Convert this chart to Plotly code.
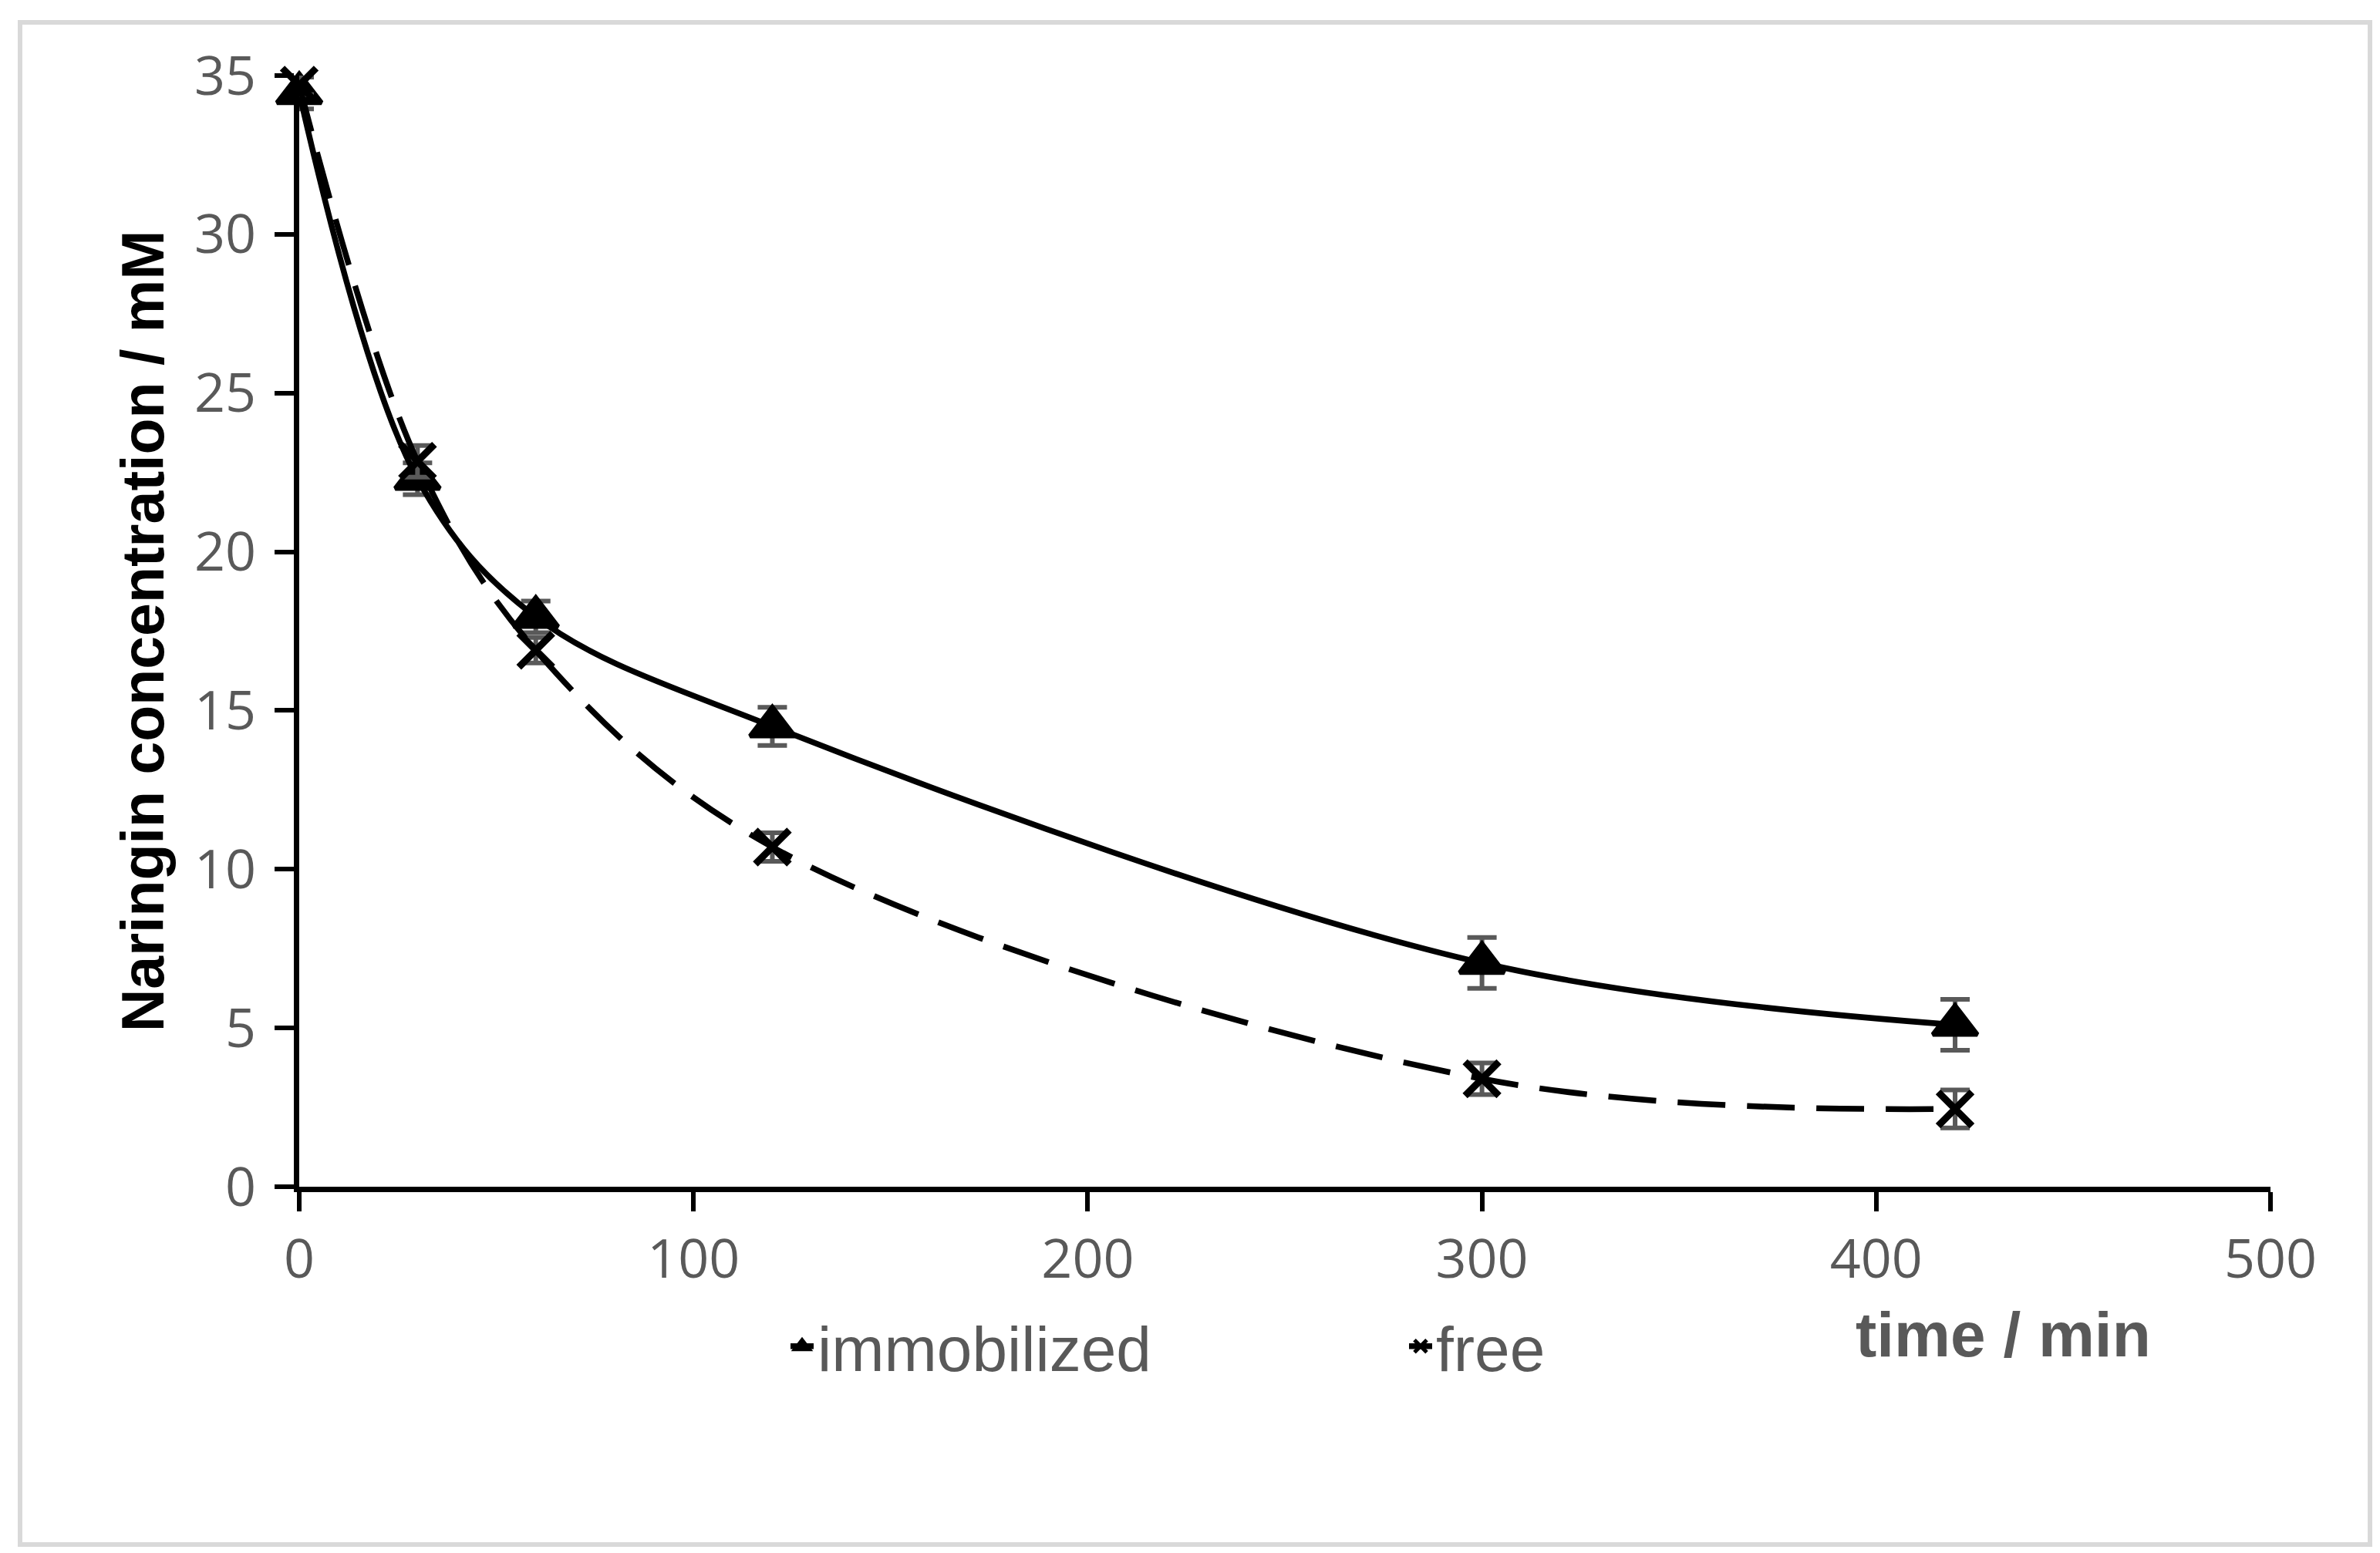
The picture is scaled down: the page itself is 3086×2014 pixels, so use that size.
import plotly.graph_objects as go

# sampling times (min)
time_min = [0, 30, 60, 120, 300, 420]

# naringin concentration (mM), with error bar half-widths
immobilized = [34.45, 22.3, 17.95, 14.5, 7.05, 5.1]
immobilized_sd = [0.5, 0.5, 0.5, 0.6, 0.8, 0.8]
free = [34.7, 22.85, 16.9, 10.7, 3.4, 2.45]
free_sd = [0.3, 0.5, 0.4, 0.45, 0.5, 0.6]

x_ticks = [0, 100, 200, 300, 400, 500]
y_ticks = [0, 5, 10, 15, 20, 25, 30, 35]

W, H = 3086, 2014
L, R, T, B = 380, 150, 90, 483
pw, ph = W - L - R, H - T - B

GRAY = '#595959'
tick_font = dict(family='Open Sans', size=70, color=GRAY)
err_style = dict(type='data', visible=True, color=GRAY, thickness=6, width=19)

fig = go.Figure()
fig.add_trace(go.Scatter(
    x=time_min, y=immobilized, name='immobilized',
    mode='lines+markers', cliponaxis=False,
    line=dict(color='black', width=7.5, shape='spline', smoothing=1.0),
    marker=dict(symbol='triangle-up', size=50, color='black',
                line=dict(color='black', width=6)),
    error_y=dict(array=immobilized_sd, **err_style),
))
fig.add_trace(go.Scatter(
    x=time_min, y=free, name='free',
    mode='lines+markers', cliponaxis=False,
    line=dict(color='black', width=7.5, shape='spline', smoothing=1.0, dash='62px,28px'),
    marker=dict(symbol='x-thin', size=44, color='black',
                line=dict(color='black', width=9)),
    error_y=dict(array=free_sd, **err_style),
))

axis_common = dict(
    showline=True, linecolor='black', linewidth=7,
    ticks='outside', ticklen=25, tickwidth=6, tickcolor='black',
    tickfont=tick_font, showgrid=False, zeroline=False,
)

fig.update_xaxes(range=[0, 500], tickvals=x_ticks, ticklabelstandoff=2, **axis_common)
fig.update_yaxes(
    range=[0, 35], tickvals=y_ticks, ticklabelstandoff=10,
    title=dict(text='Naringin concentration / mM', standoff=16,
               font=dict(family='Liberation Sans', size=77, color='black', weight='bold')),
    **axis_common)

# x axis title sits to the right, under the 400-500 range
fig.add_annotation(
    text='time / min', xref='paper', yref='paper',
    x=(2589 - L) / pw, y=(T + ph - 1722) / ph,
    xanchor='center', yanchor='middle', showarrow=False,
    font=dict(family='Liberation Sans', size=82, color=GRAY, weight='bold'),
)

# light grey frame around the whole chart
fig.add_shape(
    type='rect', xref='paper', yref='paper', layer='below',
    x0=(18 - L) / pw, x1=(3065 - L) / pw,
    y0=(T + ph - 1995) / ph, y1=(T + ph - 21) / ph,
    line=dict(color='#d9d9d9', width=6),
)

fig.update_layout(
    width=W, height=H, autosize=False,
    margin=dict(l=L, r=R, t=T, b=B),
    paper_bgcolor='white', plot_bgcolor='white',
    showlegend=True,
    legend=dict(
        orientation='h', x=(1012 - L) / pw, xanchor='left',
        y=(T + ph - 1738) / ph, yanchor='middle',
        font=dict(family='Liberation Sans', size=82, color=GRAY),
        itemwidth=30, entrywidth=757, entrywidthmode='pixels',
        bgcolor='rgba(0,0,0,0)',
    ),
)

fig.write_html("out.html")
